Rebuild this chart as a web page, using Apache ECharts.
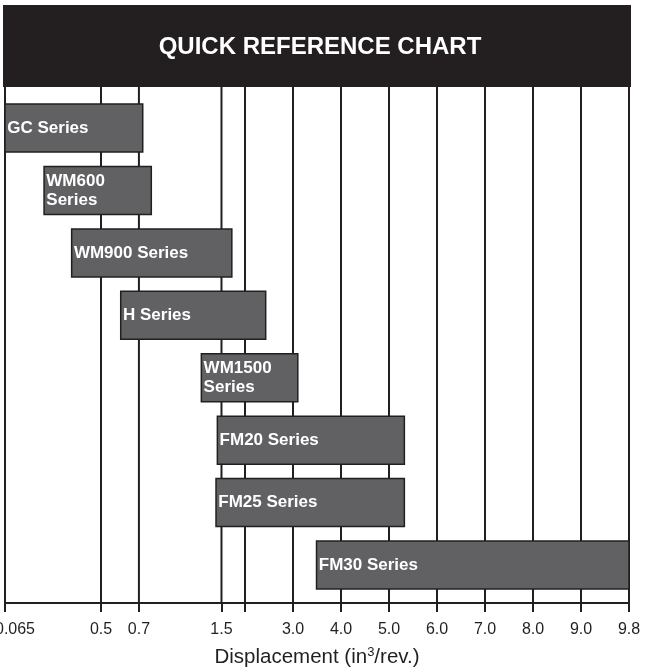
<!DOCTYPE html>
<html>
<head>
<meta charset="utf-8">
<script src="https://cdn.jsdelivr.net/npm/echarts@6/dist/echarts.min.js"></script>
<style>html,body{margin:0;padding:0;background:#fff;}#chart{width:645px;height:667px;}</style>
</head>
<body>
<div id="chart"></div>
<script>
// Axis scale: displacement break values and their axis unit (piecewise scale)
const scaleStops = [0.065, 0.5, 0.7, 1.5, 2.0, 3.0, 4.0, 5.0, 6.0, 7.0, 8.0, 9.0, 9.8];
const scaleUnits = [0, 2, 2.79, 4.51, 5, 6, 7, 8, 9, 10, 11, 12, 13];
const tickLabels = ['0.065', '0.5', '0.7', '1.5', '', '3.0', '4.0', '5.0', '6.0', '7.0', '8.0', '9.0', '9.8'];

// Series displacement ranges (in^3/rev.)
const seriesNames = ['GC Series', 'WM600\nSeries', 'WM900 Series', 'H Series', 'WM1500\nSeries', 'FM20 Series', 'FM25 Series', 'FM30 Series'];
const rangeMin = [0.065, 0.242, 0.367, 0.604, 1.305, 1.46, 1.447, 3.49];
const rangeMax = [0.737, 0.82, 1.72, 2.431, 3.1, 5.32, 5.32, 9.8];

function toAxis(v) {
  for (let i = 0; i < scaleStops.length - 1; i++) {
    if (v <= scaleStops[i + 1]) {
      const t = (v - scaleStops[i]) / (scaleStops[i + 1] - scaleStops[i]);
      return scaleUnits[i] + t * (scaleUnits[i + 1] - scaleUnits[i]);
    }
  }
  return scaleUnits[scaleUnits.length - 1];
}

const barData = seriesNames.map((n, i) => [toAxis(rangeMin[i]), toAxis(rangeMax[i]), i, n]);
const labelUnits = scaleUnits.filter((u, i) => tickLabels[i] !== '');

const ink = '#231f20';
const chart = echarts.init(document.getElementById('chart'));
chart.setOption({
  animation: false,
  backgroundColor: '#ffffff',
  graphic: [
    { type: 'rect', shape: { x: 3, y: 5, width: 628, height: 82 }, style: { fill: ink }, z: 0 },
    { type: 'text', x: 320, y: 47, style: { text: 'QUICK REFERENCE CHART', fill: '#ffffff', font: 'bold 24px "Liberation Sans", Arial, sans-serif', align: 'center', verticalAlign: 'middle' }, z: 1 }
  ],
  grid: { left: 5, right: 16, top: 87, bottom: 64, containLabel: false, outerBoundsMode: 'none' },
  xAxis: {
    type: 'value', min: 0, max: 13,
    name: 'Displacement (in{sup|3}/rev.)',
    nameLocation: 'middle', nameGap: 43,
    nameTextStyle: {
      fontFamily: '"Liberation Sans", Arial, sans-serif', fontSize: 20.5, color: ink,
      rich: { sup: { fontSize: 13, color: ink, fontFamily: '"Liberation Sans", Arial, sans-serif', padding: [0, 0, 9, 0] } }
    },
    axisLine: { show: true, onZero: false, lineStyle: { color: ink, width: 2 } },
    axisTick: { show: true, customValues: scaleUnits, length: 9, lineStyle: { color: ink, width: 2 } },
    axisLabel: {
      customValues: labelUnits, margin: 19, fontSize: 16, color: ink,
      fontFamily: '"Liberation Sans", Arial, sans-serif',
      rich: { first: { fontSize: 16, color: ink, fontFamily: '"Liberation Sans", Arial, sans-serif', padding: [0, 0, 0, 20] } },
      formatter: function (v) {
        let best = 0;
        for (let i = 0; i < scaleUnits.length; i++) if (Math.abs(scaleUnits[i] - v) < Math.abs(scaleUnits[best] - v)) best = i;
        return best === 0 ? '{first|' + tickLabels[0] + '}' : tickLabels[best];
      }
    },
    splitLine: { show: false }
  },
  yAxis: { type: 'value', inverse: true, min: -0.657, max: 7.608, show: false, splitLine: { show: false } },
  series: [
    {
      type: 'custom', z: 1, silent: true,
      data: scaleUnits.map(u => [u]),
      renderItem: function (params, api) {
        const cs = params.coordSys;
        const x = api.coord([api.value(0), 0])[0];
        return { type: 'line', shape: { x1: x, y1: cs.y, x2: x, y2: cs.y + cs.height }, style: { stroke: ink, lineWidth: 2 } };
      }
    },
    {
      type: 'custom', z: 3, silent: true,
      data: barData,
      renderItem: function (params, api) {
        const s = api.coord([api.value(0), api.value(2)]);
        const e = api.coord([api.value(1), api.value(2)]);
        const h = api.size([0, 1])[1] * 0.769;
        return {
          type: 'rect',
          shape: { x: s[0], y: s[1] - h / 2, width: e[0] - s[0], height: h },
          style: { fill: '#616163', stroke: ink, lineWidth: 1.5 },
          textContent: {
            style: { text: barData[params.dataIndex][3], fill: '#ffffff', font: 'bold 17px "Liberation Sans", Arial, sans-serif', lineHeight: 19 }
          },
          textConfig: { position: 'insideLeft', distance: 3 }
        };
      }
    }
  ]
});
</script>
</body>
</html>
